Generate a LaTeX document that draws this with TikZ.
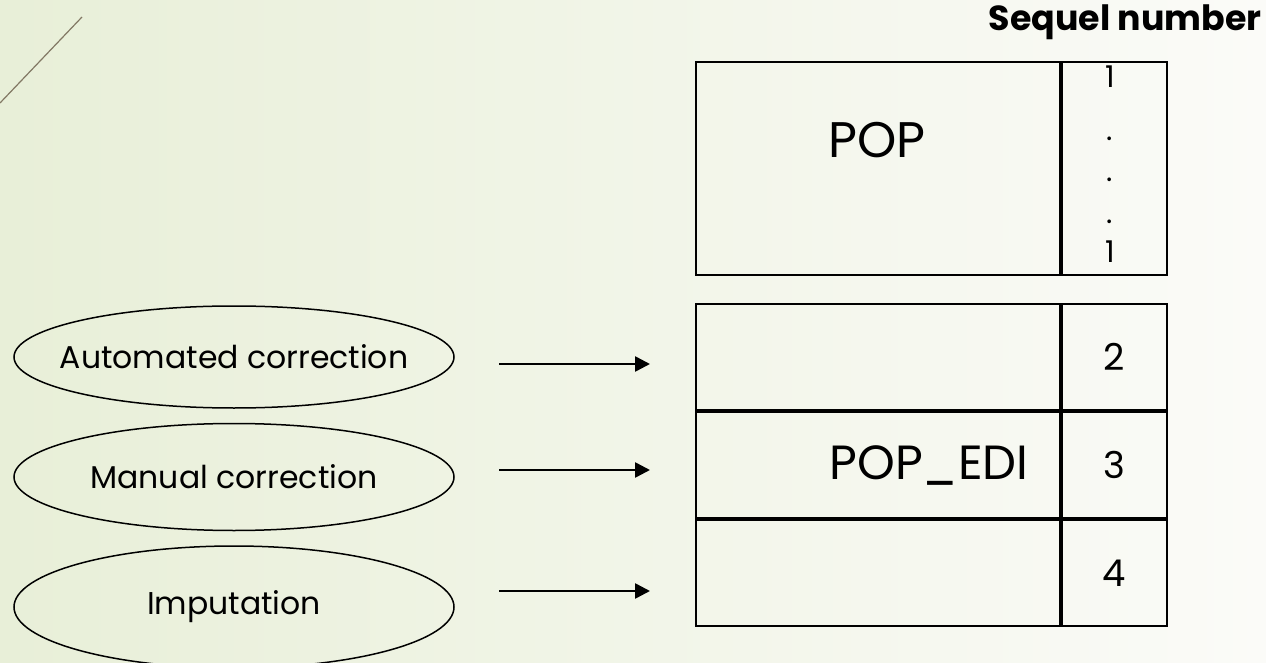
\documentclass[tikz,border=0pt]{standalone}
\usepackage{fontspec}
\setmainfont{Poppins}
\usetikzlibrary{shapes.geometric,arrows.meta,positioning}

\definecolor{bgleft}{RGB}{232,239,216}
\definecolor{bgright}{RGB}{251,251,248}
\definecolor{slash}{RGB}{130,120,100}

\begin{document}
\begin{tikzpicture}[x=1pt,y=-1pt,
    cellbox/.style={draw=black,line width=2pt,inner sep=0pt,anchor=north west},
    bubble/.style={draw=black,line width=1.5pt,ellipse,inner sep=-60pt,minimum width=440pt,font=\fontsize{31.5}{36}\selectfont},
    feed/.style={line width=2.6pt,-{Triangle[length=15pt,width=15pt]}},
    big/.style={font=\fontsize{50}{60}\selectfont},
    seqnum/.style={font=\fontsize{37}{42}\selectfont},
    tick/.style={font=\fontsize{30}{36}\selectfont}]
    \useasboundingbox (0,0) rectangle (1266,663);
    \shade[left color=bgleft,right color=bgright] (0,0) rectangle (1266,663);
    \draw[slash,line width=1.2pt] (0,103) -- (82,17);

    % column header
    \node[font=\bfseries\fontsize{34.8}{40}\selectfont] (seqhead) at (1125,22) {Sequel number};

    % POP table
    \node[cellbox,minimum width=364pt,minimum height=213pt] (popmain) at (695,61) {};
    \node[cellbox,minimum width=105pt,minimum height=213pt] (popseq) at (popmain.north east) {};
    \node[big] (pop) at (877,140) {POP};
    \node[tick,anchor=base] (s1) at (1110,88) {1};
    \foreach \y/\n in {141/d1,182/d2,224/d3}
        \node[tick,anchor=base] (\n) at (1110,\y) {.};
    \node[tick,anchor=base] (s2) at (1110,262) {1};

    % POP_EDI table
    \node[cellbox,minimum width=364pt,minimum height=106pt] (row1) at (695,303) {};
    \node[cellbox,minimum width=364pt,minimum height=106pt] (row2) at (row1.south west) {};
    \node[cellbox,minimum width=364pt,minimum height=106pt] (row3) at (row2.south west) {};
    \node[cellbox,minimum width=105pt,minimum height=106pt,seqnum] (seq1) at (row1.north east) {2};
    \node[cellbox,minimum width=105pt,minimum height=106pt,seqnum] (seq2) at (row2.north east) {3};
    \node[cellbox,minimum width=105pt,minimum height=106pt,seqnum] (seq3) at (row3.north east) {4};
    \node[font=\fontsize{48}{56}\selectfont] (popedi) at (929,466) {POP\_EDI};

    % editing steps
    \node[bubble,minimum height=102pt] (auto) at (234,357) {Automated correction};
    \node[bubble,minimum height=107pt] (manual) at (234,477) {Manual correction};
    \node[bubble,minimum height=122pt] (imput) at (234,607) {Imputation};

    \coordinate (a1) at (499,364);
    \coordinate (a2) at (499,470);
    \coordinate (a3) at (499,591);
    \coordinate (b1) at (650,364);
    \coordinate (b2) at (650,470);
    \coordinate (b3) at (650,591);
    \foreach \i in {1,2,3}
        \draw[feed] (a\i) -- (b\i);
\end{tikzpicture}
\end{document}
